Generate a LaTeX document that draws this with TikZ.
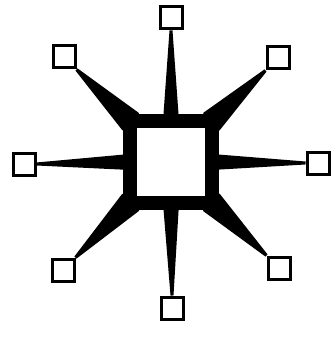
\documentclass[tikz,border=0pt]{standalone}
\usetikzlibrary{calc}
\tikzset{
    hubbox/.style={draw, line width=14pt, minimum size=82pt, inner sep=0pt},
    portbox/.style={draw, line width=3pt, minimum size=22pt, inner sep=0pt},
}
\begin{document}
\begin{tikzpicture}[x=1pt, y=-1pt]
        \useasboundingbox (0,0) rectangle (336,339);
        \node[hubbox] (H) at (171,162) {};
        \foreach \name/\pos in {N/{(171,18)}, NE/{(278,58)}, E/{(318,163)}, SE/{(279,268)},
                S/{(172,308)}, SW/{(63,270)}, W/{(24,164)}, NW/{(64,57)}}
            \node[portbox] (\name) at \pos {};
        % tapered spokes from the hub to each port
        \foreach \name/\src/\dst/\inset/\w in {N/north/south/7/8, S/south/north/7/8,
                E/east/west/7/8, W/west/east/7/8,
                NE/north east/south west/11/12, SE/south east/north west/11/12,
                SW/south west/north east/11/12, NW/north west/south east/11/12} {
            \coordinate (a) at ($(H.\src)!\inset pt!(H.center)$);
            \fill ($(a)!\w pt!90:(\name.\dst)$) -- ($(a)!\w pt!-90:(\name.\dst)$)
                -- ($(\name.\dst)!1.5pt!90:(a)$) -- ($(\name.\dst)!1.5pt!-90:(a)$) -- cycle;
        }
    \end{tikzpicture}
\end{document}
